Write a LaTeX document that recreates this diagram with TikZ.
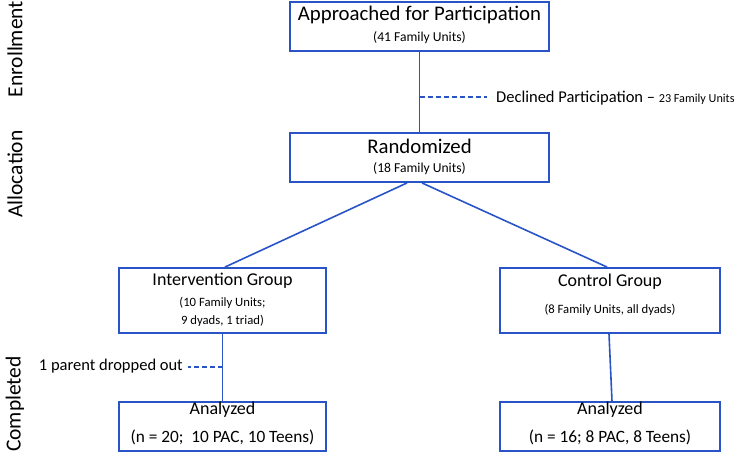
\documentclass[tikz,border=0pt]{standalone}
\usepackage{fontspec}
\setmainfont{Carlito}
\definecolor{cblue}{RGB}{40,84,200}
\begin{document}
\begin{tikzpicture}[x=1pt,y=-1pt,
  box/.style={draw=cblue,line width=1.9pt,fill=white,inner sep=0pt},
  big/.style={inner sep=0pt,font=\fontsize{20.8}{22}\selectfont},
  mid/.style={inner sep=0pt,font=\fontsize{18}{20}\selectfont},
  lab/.style={inner sep=0pt,font=\fontsize{16.5}{18}\selectfont},
  small/.style={inner sep=0pt,font=\fontsize{13.6}{15}\selectfont},
  smaller/.style={inner sep=0pt,font=\fontsize{12.7}{14}\selectfont},
  side/.style={inner sep=0pt,rotate=90,font=\fontsize{21.5}{23}\selectfont},
  conn/.style={draw=cblue,line width=1.6pt},
  dashconn/.style={draw=cblue,line width=1.6pt,dash pattern=on 5pt off 3pt}]
\useasboundingbox (0,0) rectangle (740,454);
% boxes
\node[box,minimum width=259pt,minimum height=49pt] (app) at (419.5,26.5) {};
\node[box,minimum width=259pt,minimum height=49pt] (rand) at (419.5,157.5) {};
\node[box,minimum width=207pt,minimum height=65pt] (int) at (222.5,300.5) {};
\node[box,minimum width=220pt,minimum height=65pt] (ctl) at (610,300.5) {};
\node[box,minimum width=207pt,minimum height=49pt] (anaL) at (222.5,426.5) {};
\node[box,minimum width=220pt,minimum height=49pt] (anaR) at (610,426.5) {};
% texts
\node[big] (appT) at (419.5,15) {Approached for Participation};
\node[small] (appS) at (419.5,38) {(41 Family Units)};
\node[big] (randT) at (419.5,146) {Randomized};
\node[small] (randS) at (419.5,169) {(18 Family Units)};
\node[mid] (intT) at (222.5,281) {Intervention Group};
\node[smaller] (intS1) at (222.5,303) {(10 Family Units;};
\node[smaller] (intS2) at (222.5,321) {9 dyads, 1 triad)};
\node[mid] (ctlT) at (610,282) {Control Group};
\node[smaller] (ctlS) at (610,310) {(8 Family Units, all dyads)};
\node[mid] (anaLT) at (222.5,410) {Analyzed};
\node[lab,font=\fontsize{17.3}{19}\selectfont] (anaLS) at (222.5,437) {(n = 20;\ \ 10 PAC, 10 Teens)};
\node[mid] (anaRT) at (610,410) {Analyzed};
\node[lab,font=\fontsize{17.3}{19}\selectfont] (anaRS) at (610,437) {(n = 16; 8 PAC, 8 Teens)};
% side labels
\node[side] (enr) at (15,49) {Enrollment};
\node[side] (alloc) at (15,174) {Allocation};
\node[side] (comp) at (15,404) {Completed};
% exclusions
\node[lab,anchor=west] (decl) at (496,98) {Declined Participation -- {\fontsize{12.2}{14}\selectfont 23 Family Units}};
\node[lab,anchor=east] (drop) at (183,366) {1 parent dropped out};
% connectors
\draw[conn] (app.south) -- (rand.north);
\coordinate (dj) at (420,97);
\coordinate (de) at (487,97);
\draw[dashconn] (dj) -- (de);
\draw[conn] ([xshift=-12.5pt]rand.south) -- ([xshift=2.5pt]int.north);
\draw[conn] ([xshift=2.5pt]rand.south) -- ([xshift=-3pt]ctl.north);
\draw[conn] (int.south) -- (anaL.north);
\coordinate (rj) at (222.5,367);
\coordinate (re) at (188,367);
\draw[dashconn] (rj) -- (re);
\draw[conn] ([xshift=-1pt]ctl.south) -- ([xshift=2pt]anaR.north);
\end{tikzpicture}
\end{document}
